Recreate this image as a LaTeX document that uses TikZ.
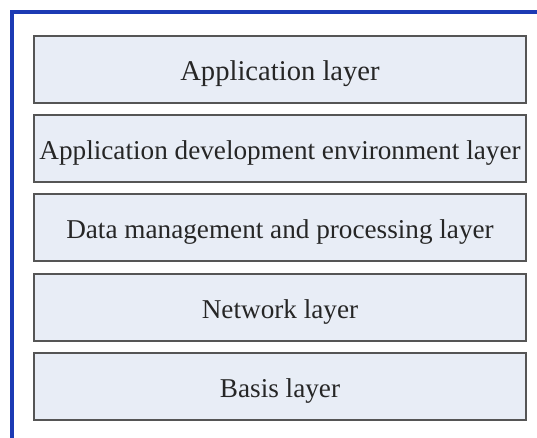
\documentclass[tikz,border=0pt]{standalone}
\usepackage{fontspec}
\setmainfont{Liberation Serif}
\definecolor{framblue}{HTML}{1C3AB4}
\definecolor{layerfill}{HTML}{E8EDF6}
\definecolor{layeredge}{HTML}{555555}
\tikzset{
  layerbox/.style={draw=layeredge, line width=1.5pt, fill=layerfill,
    rectangle, inner sep=0pt, minimum width=492pt, minimum height=67pt,
    text height=27pt, text depth=6pt,
    font=\fontsize{27.2}{30}\selectfont, text=black!85},
}
\begin{document}
\begin{tikzpicture}[x=1pt,y=-1pt]
  \useasboundingbox (0,0) rectangle (537,437);
  \fill[white] (0,0) rectangle (537,437);
  % outer frame, running off the right and bottom edges
  \begin{scope}
    \clip (0,0) rectangle (537,437);
    \draw[framblue, line width=3.2pt] (12,460) -- (12,12) -- (560,12);
  \end{scope}
  % stacked layers
  \node[layerbox, font=\fontsize{28.6}{31}\selectfont] (app) at (280,69.5) {Application layer};
  \node[layerbox] (dev)  at (280,148.5) {Application development environment layer};
  \node[layerbox] (data) at (280,227.5) {Data management and processing layer};
  \node[layerbox] (net)  at (280,307.5) {Network layer};
  \node[layerbox] (base) at (280,386.5) {Basis layer};
\end{tikzpicture}
\end{document}
